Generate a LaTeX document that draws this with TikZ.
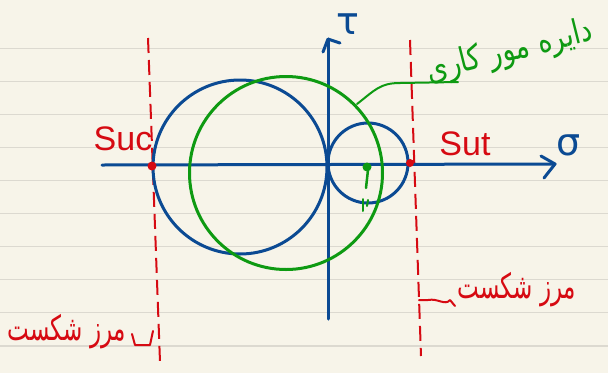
\documentclass[tikz,border=0pt]{standalone}
\usepackage{fontspec}
\usepackage{graphicx}
\setmainfont{Liberation Sans}
\newfontfamily\fafont[Script=Arabic]{DejaVu Sans}
\newfontfamily\grfont{DejaVu Sans}
\TeXXeTstate=1
\definecolor{paper}{HTML}{F7F4E9}
\definecolor{rule}{HTML}{DCD9D0}
\definecolor{inkblue}{HTML}{0B4A93}
\definecolor{inkgreen}{HTML}{0E9A12}
\definecolor{inkred}{HTML}{D60A12}
\tikzset{
  bluepen/.style={draw=inkblue,line width=3pt,line cap=round,line join=round},
  greenpen/.style={draw=inkgreen,line width=3pt,line cap=round,line join=round},
  redpen/.style={draw=inkred,line width=2pt,line cap=round,line join=round},
  reddash/.style={draw=inkred,line width=2pt,dash pattern=on 15pt off 7pt},
  redlabel/.style={text=inkred,inner sep=0pt,font=\fontsize{34}{34}\selectfont},
  falabel/.style={inner sep=0pt,font=\fafont\fontsize{22}{22}\selectfont},
  greek/.style={text=inkblue,inner sep=0pt,font=\grfont\fontsize{38}{38}\selectfont},
}
\begin{document}
\begin{tikzpicture}[x=1pt,y=-1pt]
\fill[paper] (0,0) rectangle (608,373);
\useasboundingbox (0,0) rectangle (608,373);
\foreach \yy in {48.5,81.5,114.5,147.5,180.5,213.5,246.5,279.5,312.5,346}
  \draw[rule,line width=1.3pt] (0,\yy) -- (608,\yy);
% dashed failure boundaries
\coordinate (lt) at (148,38);
\coordinate (lb) at (160,362);
\coordinate (rt) at (410,40);
\coordinate (rb) at (421,356);
\draw[reddash] (lt) -- (lb);
\draw[reddash] (rt) -- (rb);
% axes
\coordinate (xs) at (102,165);
\coordinate (xe) at (555,164);
\coordinate (ys) at (328,319);
\coordinate (ye) at (328,39);
\draw[bluepen] (xs) -- (xe);
\draw[bluepen] (541,156) -- (xe) -- (544,178);
\draw[bluepen] (ys) -- (ye);
\draw[bluepen] (323,52) -- (ye) -- (340,43);
\node[greek] (sig) at (569,145) {σ};
\node[greek] (tau) at (348,24) {τ};
% circles
\draw[bluepen] (240,167) circle (87);
\draw[bluepen] (368,163) circle (40);
\draw[greenpen] (286,173) circle (96.5);
% points
\fill[inkred] (152,166) circle (4.5);
\fill[inkred] (410,163) circle (4);
\node[redlabel] (suc) at (123,139) {Suc};
\node[redlabel] (sut) at (465,144) {Sut};
% green point and marks
\fill[inkgreen] (367,167) circle (4.5);
\draw[greenpen,line width=2.5pt] (368,170) -- (366,188);
\draw[greenpen,line width=2pt] (363,199) -- (363,211);
\draw[greenpen,line width=2pt] (368,200) -- (367,206);
% green label
\node[falabel,text=inkgreen,rotate=14,font=\fafont\fontsize{27}{27}\selectfont] (glab) at (510,52) {\scalebox{1}[1.25]{\beginR دایره مور کاری\endR}};
\coordinate (g1) at (357,104);
\draw[greenpen,line width=2pt] (g1) .. controls (375,90) and (380,83) .. (400,83) -- (458,82);
% red failure labels
\node[falabel,text=inkred,font=\fafont\fontsize{23}{23}\selectfont] (fl) at (67,332) {\scalebox{1}[1.5]{\beginR مرز شکست\endR}};
\node[falabel,text=inkred,font=\fafont\fontsize{23}{23}\selectfont] (fr) at (517,290) {\scalebox{1}[1.5]{\beginR مرز شکست\endR}};
\draw[redpen] (132,334) -- (135,345) -- (150,345) -- (153,331);
\draw[redpen] (419,300) -- (428,300) .. controls (438,298) and (445,306) .. (450,300) -- (455,306);
\end{tikzpicture}
\end{document}
